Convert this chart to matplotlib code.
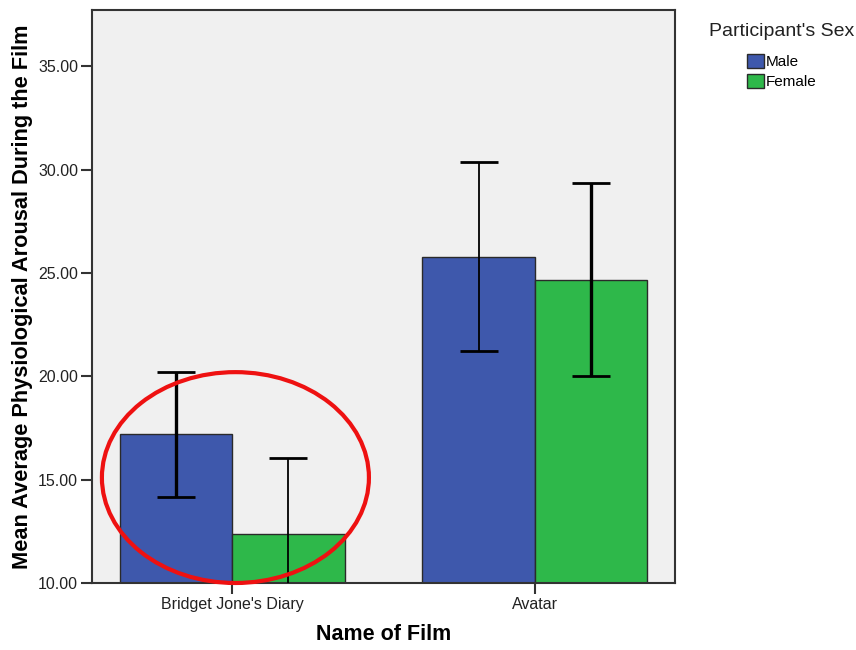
import numpy as np
import matplotlib.pyplot as plt
from matplotlib.patches import Ellipse, Patch

plt.rcParams['font.family'] = ['Liberation Sans', 'DejaVu Sans']

films = ["Bridget Jone's Diary", "Avatar"]
sexes = ['Male', 'Female']
means = {'Male': [17.2, 25.78], 'Female': [12.39, 24.65]}
ci_low = {'Male': [14.16, 21.21], 'Female': [8.73, 20.02]}
ci_high = {'Male': [20.2, 30.35], 'Female': [16.05, 29.33]}

colors = {'Male': '#3e58ac', 'Female': '#2eb84a'}
err_widths = {'Male': [2.4, 1.3], 'Female': [1.3, 2.4]}

fig = plt.figure(figsize=(8.56, 6.5), dpi=100)
ax = fig.add_axes([92 / 856, 67 / 650, 583 / 856, 573 / 650])
ax.set_facecolor('#f0f0f0')

x = np.arange(len(films))
w = 0.371
for i, s in enumerate(sexes):
    pos = x + (i - 0.5) * w
    ax.bar(pos, np.array(means[s]) - 10, bottom=10, width=w, color=colors[s],
           edgecolor='#2a2a2a', linewidth=1.0, zorder=2)
    for j in range(len(films)):
        m = means[s][j]
        lo = m - ci_low[s][j]
        hi = ci_high[s][j] - m
        ax.errorbar(pos[j], m, yerr=[[lo], [hi]], fmt='none', ecolor='black',
                    elinewidth=err_widths[s][j], capsize=14,
                    capthick=2.0, zorder=3)

ax.set_xlim(-0.465, 1.465)
ax.set_ylim(10, 37.72)
ax.set_xticks(x)
ax.set_xticklabels(films, fontsize=11.5, color='#222222')
ax.set_yticks([10, 15, 20, 25, 30, 35])
ax.set_yticklabels([f'{v:.2f}' for v in [10, 15, 20, 25, 30, 35]],
                   fontsize=11.5, color='#222222')
ax.tick_params(length=8, width=1.5, color='#333333', pad=2)
for sp in ax.spines.values():
    sp.set_color('#333333')
    sp.set_linewidth(1.5)

ax.set_xlabel('Name of Film', fontsize=15.5, fontweight='bold', labelpad=9)
ax.set_ylabel('Mean Average Physiological Arousal During the Film',
              fontsize=15.7, fontweight='bold', labelpad=4)

# red circle highlighting the first film
ell = Ellipse((0.246, 0.184), 0.458, 0.368, transform=ax.transAxes,
              fill=False, edgecolor='#ee1111', linewidth=3, clip_on=False, zorder=5)
ax.add_patch(ell)

fig.text(782 / 856, 1 - 31 / 650, "Participant's Sex", fontsize=14,
         color='#222222', ha='center', va='center')
handles = [Patch(facecolor=colors[s], edgecolor='#2a2a2a', linewidth=1.0) for s in sexes]
leg = fig.legend(handles, sexes, loc='upper center',
                 bbox_to_anchor=(782 / 856, 1 - 46 / 650), frameon=False,
                 fontsize=11, handlelength=1.05, handleheight=1.05,
                 handletextpad=0.15, labelspacing=0.3, borderpad=0)

fig.savefig('out.png', dpi=100)
